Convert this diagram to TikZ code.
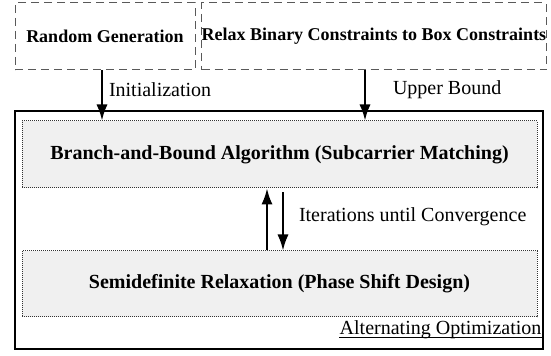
\documentclass[tikz,border=0pt]{standalone}
\usepackage{fontspec}
\setmainfont{Liberation Serif}
\usetikzlibrary{arrows.meta}

\begin{document}
\begin{tikzpicture}[x=0.5pt, y=-0.5pt,
    >={Latex[length=8pt,width=5.6pt]},
    srcbox/.style={draw=black!65, dash pattern=on 4pt off 2.5pt, line width=0.5pt,
        minimum height=33.5pt, inner sep=0pt, font=\fontsize{9}{11}\selectfont\bfseries},
    subbox/.style={draw=black!80, dash pattern=on 0.5pt off 0.5pt, line width=0.5pt, fill=black!6,
        minimum width=257.5pt, minimum height=33.5pt, inner sep=0pt,
        font=\fontsize{10}{12}\selectfont\bfseries},
    flow/.style={->, line width=1pt},
    lbl/.style={font=\fontsize{10}{12}\selectfont, inner sep=0pt, anchor=west}]

    \useasboundingbox (0,0) rectangle (551,356);

    \node[srcbox, minimum width=90pt] (rand) at (105,36.5) {Random Generation};
    \node[srcbox, minimum width=171pt] (relax) at (374,36.5) {Relax Binary Constraints to Box Constraints};

    \node[draw, line width=0.75pt, minimum width=264pt, minimum height=119pt, inner sep=0pt] (ao) at (279,230) {};
    \node[subbox] (bb) at (279.5,154.5) {Branch-and-Bound Algorithm (Subcarrier Matching)};
    \node[subbox, minimum height=33pt] (sdr) at (279.5,284) {Semidefinite Relaxation (Phase Shift Design)};
    \node[font=\fontsize{10}{12}\selectfont, anchor=base east, inner sep=0pt] (aolbl)
        at ([xshift=-1pt,yshift=7.5pt]ao.south east) {Alternating Optimization};
    \draw[line width=0.5pt] ([yshift=-1.4pt]aolbl.base west) -- ([yshift=-1.4pt]aolbl.base east);

    \draw[flow] ([xshift=-1.5pt]rand.south) -- ([xshift=-1.5pt]rand.south |- bb.north)
        node[lbl, pos=0.39, xshift=3pt] {Initialization};
    \draw[flow] ([xshift=-4.5pt]relax.south) -- ([xshift=-4.5pt]relax.south |- bb.north)
        node[lbl, pos=0.39, xshift=13.5pt] {Upper Bound};

    \draw[flow] ([xshift=-6.25pt]sdr.north) -- ([xshift=-6.25pt]bb.south);
    \draw[flow, shorten <=2pt] ([xshift=1.75pt]bb.south) -- ([xshift=1.75pt]sdr.north)
        node[lbl, pos=0.45, xshift=7.5pt] {Iterations until Convergence};
\end{tikzpicture}
\end{document}
